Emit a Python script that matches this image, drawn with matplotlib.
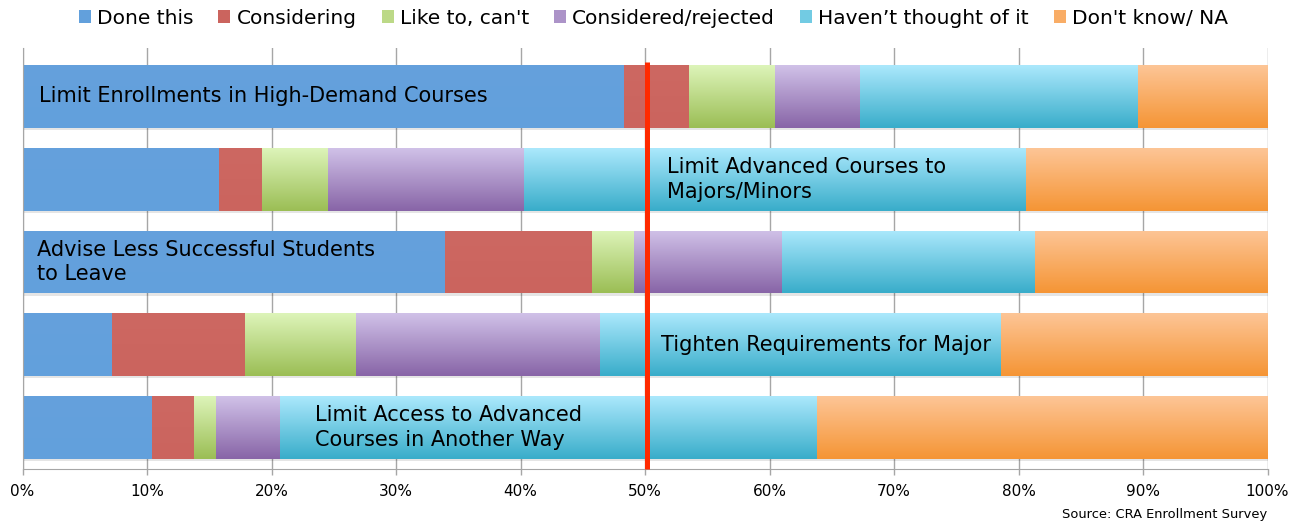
import numpy as np
import matplotlib
matplotlib.use("Agg")
import matplotlib.pyplot as plt
from matplotlib.patches import Patch
from matplotlib.colors import to_rgb

# Survey responses (percent of departments) per enrollment-management action
actions = [
    "Limit Enrollments in High-Demand Courses",
    "Limit Advanced Courses to\nMajors/Minors",
    "Advise Less Successful Students\nto Leave",
    "Tighten Requirements for Major",
    "Limit Access to Advanced\nCourses in Another Way",
]
series_names = ["Done this", "Considering", "Like to, can't",
                "Considered/rejected", "Haven\u2019t thought of it", "Don't know/ NA"]
done_this = [48.3, 15.8, 33.9, 7.2, 10.4]
considering = [5.2, 3.4, 11.8, 10.7, 3.4]
like_to_cant = [6.9, 5.3, 3.4, 8.9, 1.7]
considered_rejected = [6.9, 15.8, 11.9, 19.6, 5.2]
havent_thought = [22.3, 40.3, 20.3, 32.2, 43.1]
dont_know = [10.4, 19.4, 18.7, 21.4, 36.2]
x_ticks = [0, 10, 20, 30, 40, 50, 60, 70, 80, 90, 100]
x_tick_labels = [f"{t}%" for t in x_ticks]
reference_line = 50

series = [done_this, considering, like_to_cant, considered_rejected,
          havent_thought, dont_know]

# (top, bottom) colours of the vertical gradient of each series
gradients = [
    ("#65A1DD", "#62A0DC"),
    ("#CD6862", "#CB645E"),
    ("#DDF4B9", "#9BBE55"),
    ("#D0C1E8", "#8865A7"),
    ("#ABE8FC", "#39ADCA"),
    ("#FDC596", "#F59535"),
]

# label placement inside each bar (x in axis units)
label_x = [1.3, 51.8, 1.2, 51.3, 23.5]

fig = plt.figure(figsize=(12.95, 5.22), dpi=100)
ax = fig.add_axes([0.0174, 0.1015, 0.9614, 0.8065])

ypos = np.arange(len(actions))
bar_h = 0.76

# soft drop shadow under every bar
ax.barh(ypos + 0.025, [sum(v) for v in zip(*series)], height=bar_h,
        color="#000000", alpha=0.10, zorder=1.5, linewidth=0)

left = np.zeros(len(actions))
for vals, (c_top, c_bot) in zip(series, gradients):
    vals = np.asarray(vals)
    mid = tuple((np.array(to_rgb(c_top)) + np.array(to_rgb(c_bot))) / 2)
    bars = ax.barh(ypos, vals, left=left, height=bar_h, color=mid,
                   linewidth=0, zorder=2)
    t = np.linspace(0, 1, 64)[:, None]
    grad = (1 - t) * np.array(to_rgb(c_top)) + t * np.array(to_rgb(c_bot))
    grad = grad[:, None, :]
    for rect, l, v, y in zip(bars, left, vals, ypos):
        im = ax.imshow(grad, extent=(l, l + v, y + bar_h / 2, y - bar_h / 2),
                       origin="upper", aspect="auto", interpolation="bilinear",
                       zorder=2.1)
        im.set_clip_path(rect)
    left = left + vals

for y, txt, lx in zip(ypos, actions, label_x):
    ax.text(lx, y, txt, ha="left", va="center", fontsize=15,
            color="black", linespacing=1.3, zorder=5)

# 50% reference line
ax.plot([reference_line + 0.15] * 2, [-0.42, 4.5], color="#FF2A00",
        linewidth=3.6, zorder=4, solid_capstyle="butt", clip_on=False)

ax.set_xlim(0, 100)
ax.set_ylim(4.5, -0.585)
ax.set_xticks(x_ticks)
ax.set_xticklabels(x_tick_labels, fontsize=11)
ax.set_yticks([])
ax.xaxis.grid(True, color="#A6A6A6", linewidth=1.0, zorder=0)
ax.set_axisbelow(True)
for side in ("top", "right"):
    ax.spines[side].set_visible(False)
ax.spines["left"].set_color("#A6A6A6")
ax.spines["bottom"].set_color("#A6A6A6")
ax.tick_params(axis="x", length=4, width=1, color="#A6A6A6", pad=7)

handles = [Patch(facecolor=g[1] if i < 2 else
                 tuple((np.array(to_rgb(g[0])) + np.array(to_rgb(g[1]))) / 2),
                 edgecolor="none", label=n)
           for i, (n, g) in enumerate(zip(series_names, gradients))]
fig.legend(handles=handles, loc="center", bbox_to_anchor=(0.5046, 0.9655),
           ncol=6, frameon=False, fontsize=14.5, handlelength=0.6,
           handleheight=0.6, handletextpad=0.3, columnspacing=1.25)

fig.text(0.9788, 0.0153, "Source: CRA Enrollment Survey", ha="right",
         va="center", fontsize=9.4)

fig.savefig("out.png", dpi=100)
